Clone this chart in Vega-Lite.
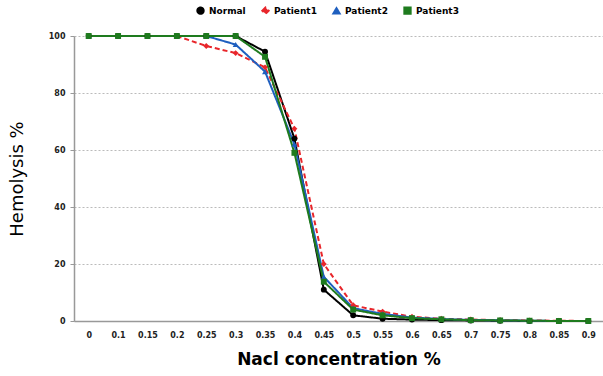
{
  "$schema": "https://vega.github.io/schema/vega-lite/v6.json",
  "width": 529,
  "height": 285,
  "autosize": "none",
  "padding": {"left": 74, "top": 36, "right": 0, "bottom": 55},
  "background": "white",
  "config": {"view": {"stroke": null}, "font": "DejaVu Sans"},
  "data": {"values": [
    {"c": "0", "s": "Normal", "h": 100}, {"c": "0.1", "s": "Normal", "h": 100}, {"c": "0.15", "s": "Normal", "h": 100}, {"c": "0.2", "s": "Normal", "h": 100}, {"c": "0.25", "s": "Normal", "h": 100}, {"c": "0.3", "s": "Normal", "h": 100}, {"c": "0.35", "s": "Normal", "h": 94.5}, {"c": "0.4", "s": "Normal", "h": 64}, {"c": "0.45", "s": "Normal", "h": 11}, {"c": "0.5", "s": "Normal", "h": 2}, {"c": "0.55", "s": "Normal", "h": 0.8}, {"c": "0.6", "s": "Normal", "h": 0.5}, {"c": "0.65", "s": "Normal", "h": 0.3}, {"c": "0.7", "s": "Normal", "h": 0.2}, {"c": "0.75", "s": "Normal", "h": 0.1}, {"c": "0.8", "s": "Normal", "h": 0}, {"c": "0.85", "s": "Normal", "h": 0}, {"c": "0.9", "s": "Normal", "h": 0},
    {"c": "0", "s": "Patient1", "h": 100}, {"c": "0.1", "s": "Patient1", "h": 100}, {"c": "0.15", "s": "Patient1", "h": 100}, {"c": "0.2", "s": "Patient1", "h": 100}, {"c": "0.25", "s": "Patient1", "h": 96.5}, {"c": "0.3", "s": "Patient1", "h": 94}, {"c": "0.35", "s": "Patient1", "h": 89}, {"c": "0.4", "s": "Patient1", "h": 67.5}, {"c": "0.45", "s": "Patient1", "h": 20}, {"c": "0.5", "s": "Patient1", "h": 5.5}, {"c": "0.55", "s": "Patient1", "h": 3.3}, {"c": "0.6", "s": "Patient1", "h": 1.5}, {"c": "0.65", "s": "Patient1", "h": 0.8}, {"c": "0.7", "s": "Patient1", "h": 0.5}, {"c": "0.75", "s": "Patient1", "h": 0.3}, {"c": "0.8", "s": "Patient1", "h": 0.2}, {"c": "0.85", "s": "Patient1", "h": 0.1}, {"c": "0.9", "s": "Patient1", "h": 0},
    {"c": "0", "s": "Patient2", "h": 100}, {"c": "0.1", "s": "Patient2", "h": 100}, {"c": "0.15", "s": "Patient2", "h": 100}, {"c": "0.2", "s": "Patient2", "h": 100}, {"c": "0.25", "s": "Patient2", "h": 100}, {"c": "0.3", "s": "Patient2", "h": 97}, {"c": "0.35", "s": "Patient2", "h": 87.5}, {"c": "0.4", "s": "Patient2", "h": 62}, {"c": "0.45", "s": "Patient2", "h": 15.5}, {"c": "0.5", "s": "Patient2", "h": 4.5}, {"c": "0.55", "s": "Patient2", "h": 2.5}, {"c": "0.6", "s": "Patient2", "h": 1.2}, {"c": "0.65", "s": "Patient2", "h": 0.7}, {"c": "0.7", "s": "Patient2", "h": 0.4}, {"c": "0.75", "s": "Patient2", "h": 0.2}, {"c": "0.8", "s": "Patient2", "h": 0.1}, {"c": "0.85", "s": "Patient2", "h": 0}, {"c": "0.9", "s": "Patient2", "h": 0},
    {"c": "0", "s": "Patient3", "h": 100}, {"c": "0.1", "s": "Patient3", "h": 100}, {"c": "0.15", "s": "Patient3", "h": 100}, {"c": "0.2", "s": "Patient3", "h": 100}, {"c": "0.25", "s": "Patient3", "h": 100}, {"c": "0.3", "s": "Patient3", "h": 100}, {"c": "0.35", "s": "Patient3", "h": 92.7}, {"c": "0.4", "s": "Patient3", "h": 59}, {"c": "0.45", "s": "Patient3", "h": 13.8}, {"c": "0.5", "s": "Patient3", "h": 4}, {"c": "0.55", "s": "Patient3", "h": 2}, {"c": "0.6", "s": "Patient3", "h": 1}, {"c": "0.65", "s": "Patient3", "h": 0.6}, {"c": "0.7", "s": "Patient3", "h": 0.3}, {"c": "0.75", "s": "Patient3", "h": 0.2}, {"c": "0.8", "s": "Patient3", "h": 0.1}, {"c": "0.85", "s": "Patient3", "h": 0}, {"c": "0.9", "s": "Patient3", "h": 0}
  ]},
  "encoding": {
    "x": {
      "field": "c", "type": "ordinal", "sort": null,
      "scale": {"type": "point", "padding": 0.5},
      "axis": {
        "title": "Nacl concentration %", "titleFontSize": 17, "titleFontWeight": "bold", "titleColor": "black", "titlePadding": 12,
        "labelAngle": 0, "labelFontSize": 8, "labelFontWeight": "bold", "labelColor": "#222", "labelPadding": 10,
        "ticks": false, "domainColor": "#999", "domainWidth": 1.5, "grid": false
      }
    },
    "y": {
      "field": "h", "type": "quantitative",
      "scale": {"domain": [0, 100], "nice": false},
      "axis": {
        "title": "Hemolysis %", "titleFontSize": 18, "titleFontWeight": "normal", "titleColor": "black", "titlePadding": 22,
        "values": [0, 20, 40, 60, 80, 100], "labelFontSize": 8, "labelFontWeight": "bold", "labelColor": "#222", "labelPadding": 5,
        "tickSize": 4, "tickColor": "#999", "domainColor": "#999", "domainWidth": 1.5,
        "grid": true, "gridColor": "#bbb", "gridDash": [2, 2], "gridWidth": 1
      }
    },
    "color": {
      "field": "s", "type": "nominal",
      "scale": {"domain": ["Normal", "Patient1", "Patient2", "Patient3"], "range": ["#000000", "#e8262b", "#1f5fbf", "#1e7b1e"]},
      "legend": {
        "title": null, "orient": "none", "legendX": 122, "legendY": -30, "direction": "horizontal",
        "labelFontSize": 9, "labelFontWeight": "bold", "labelColor": "black", "columnPadding": 12, "symbolSize": 40, "symbolStrokeWidth": 2
      }
    }
  },
  "layer": [
    {
      "mark": {"type": "line", "strokeWidth": 2},
      "encoding": {
        "strokeDash": {
          "field": "s", "type": "nominal",
          "scale": {"domain": ["Normal", "Patient1", "Patient2", "Patient3"], "range": [[1, 0], [5, 3], [1, 0], [1, 0]]},
          "legend": null
        }
      }
    },
    {
      "mark": {"type": "point", "filled": true, "size": 35, "opacity": 1},
      "encoding": {
        "shape": {
          "field": "s", "type": "nominal",
          "scale": {"domain": ["Normal", "Patient1", "Patient2", "Patient3"], "range": ["circle", "diamond", "triangle-up", "square"]},
          "legend": {"title": null, "orient": "none", "legendX": 122, "legendY": -30, "direction": "horizontal"}
        }
      }
    }
  ]
}
